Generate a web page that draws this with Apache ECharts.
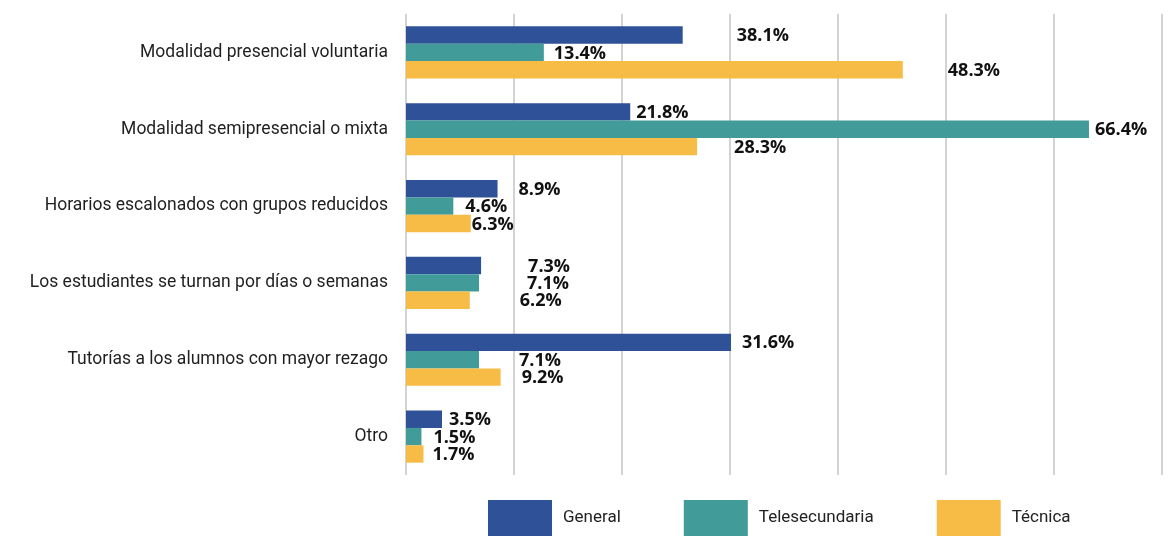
<!DOCTYPE html>
<html>
<head>
<meta charset="utf-8">
<script src="https://cdn.jsdelivr.net/npm/echarts@6/dist/echarts.min.js"></script>
<style>
  html, body { margin: 0; padding: 0; background: #fff; }
  #chart { width: 1176px; height: 536px; }
</style>
</head>
<body>
<div id="chart"></div>
<script>
// categorías (de arriba hacia abajo)
const categories = [
  'Modalidad presencial voluntaria',
  'Modalidad semipresencial o mixta',
  'Horarios escalonados con grupos reducidos',
  'Los estudiantes se turnan por días o semanas',
  'Tutorías a los alumnos con mayor rezago',
  'Otro'
];
const seriesNames = ['General', 'Telesecundaria', 'Técnica'];

// valores impresos en las etiquetas
const general = [38.1, 21.8, 8.9, 7.3, 31.6, 3.5];
const telesecundaria = [13.4, 66.4, 4.6, 7.1, 7.1, 1.5];
const tecnica = [48.3, 28.3, 6.3, 6.2, 9.2, 1.7];
// largo de barra tal como se dibuja (la primera barra de General es más corta que su etiqueta)
const generalBar = [26.9, 21.8, 8.9, 7.3, 31.6, 3.5];

// desplazamiento manual de etiquetas (px), como en el original
const nudgeGeneral = [48, 0, 15, 41, 5, 1];
const nudgeTele = [4, 0, 6, 42, 34, 6];
const nudgeTec = [39, 31, -5, 44, 15, 3];

const colors = ['#2e5198', '#419b98', '#f6bc45'];

function buildSeries(name, bars, texts, nudge, color) {
  return {
    name: name,
    type: 'bar',
    barWidth: 17.4,
    barGap: '0%',
    itemStyle: { color: color },
    data: bars.map(function (v, i) {
      return {
        value: v,
        label: {
          show: true,
          position: 'right',
          distance: 6,
          offset: [nudge[i], 1],
          formatter: texts[i].toFixed(1) + '%',
          fontFamily: 'Open Sans',
          fontWeight: 'bold',
          fontSize: 18,
          color: '#111'
        }
      };
    })
  };
}

var myChart = echarts.init(document.getElementById('chart'));
var option = {
  animation: false,
  color: colors,
  grid: { left: 406, right: 14, top: 14, bottom: 61, containLabel: false },
  xAxis: {
    type: 'value',
    min: 0,
    max: 73.5,
    interval: 10.5,
    axisLine: { show: false },
    axisTick: { show: false },
    axisLabel: { show: false },
    splitLine: { show: true, lineStyle: { color: '#c4c4c4', width: 1.5 } }
  },
  yAxis: {
    type: 'category',
    inverse: true,
    data: categories,
    axisLine: { show: false },
    axisTick: { show: false },
    axisLabel: {
      margin: 18,
      fontFamily: 'Roboto',
      fontSize: 17.5,
      color: '#1f1f1f'
    }
  },
  legend: {
    data: seriesNames,
    left: 488,
    top: 500,
    padding: 0,
    itemWidth: 64,
    itemHeight: 36,
    itemGap: 63,
    icon: 'rect',
    textStyle: {
      fontFamily: 'Roboto',
      fontSize: 17,
      color: '#222',
      padding: [0, 0, 0, 6]
    }
  },
  series: [
    buildSeries(seriesNames[0], generalBar, general, nudgeGeneral, colors[0]),
    buildSeries(seriesNames[1], telesecundaria, telesecundaria, nudgeTele, colors[1]),
    buildSeries(seriesNames[2], tecnica, tecnica, nudgeTec, colors[2])
  ]
};
myChart.setOption(option);
</script>
</body>
</html>
